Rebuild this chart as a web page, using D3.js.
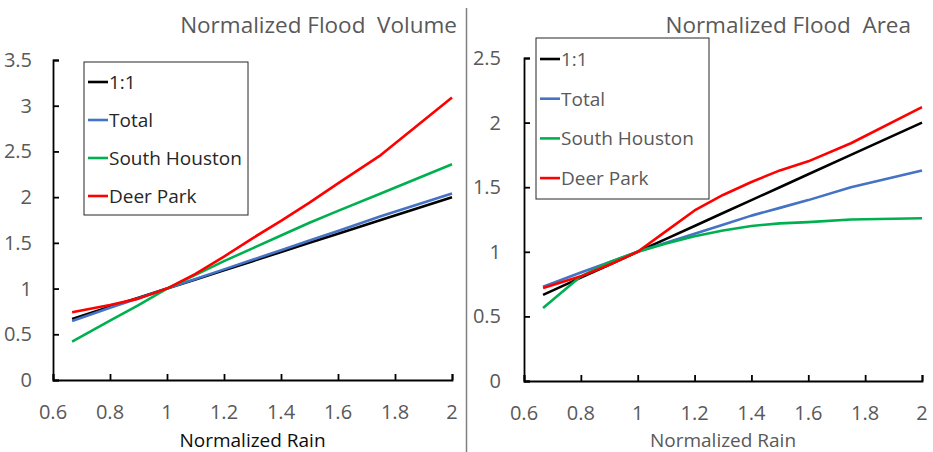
<!DOCTYPE html>
<html>
<head>
<meta charset="utf-8">
<script src="https://cdn.jsdelivr.net/npm/d3@7"></script>
<style>
  body { margin: 0; background: #fff; }
  svg text { font-family: "Open Sans", Lato, sans-serif; }
</style>
</head>
<body>
<div id="chart"></div>
<script>
// normalized rain (x) shared by every series
var rain = [0.667, 0.8, 0.9, 1.0, 1.1, 1.2, 1.3, 1.4, 1.5, 1.6, 1.75, 2.0];
var oneToOne = [0.667, 0.8, 0.9, 1.0, 1.1, 1.2, 1.3, 1.4, 1.5, 1.6, 1.75, 2.0];

// flood volume
var volTotal = [0.645, 0.79, 0.895, 1.0, 1.105, 1.21, 1.315, 1.42, 1.525, 1.63, 1.79, 2.04];
var volSouth = [0.42, 0.65, 0.82, 1.0, 1.15, 1.30, 1.44, 1.58, 1.72, 1.85, 2.04, 2.36];
var volDeer  = [0.74, 0.82, 0.89, 1.0, 1.16, 1.35, 1.55, 1.74, 1.94, 2.15, 2.46, 3.09];

// flood area
var areaTotal = [0.73, 0.84, 0.92, 1.0, 1.07, 1.14, 1.21, 1.28, 1.34, 1.40, 1.50, 1.63];
var areaSouth = [0.565, 0.81, 0.92, 1.0, 1.065, 1.12, 1.165, 1.20, 1.22, 1.23, 1.25, 1.26];
var areaDeer  = [0.72, 0.81, 0.90, 1.0, 1.16, 1.32, 1.44, 1.54, 1.63, 1.70, 1.84, 2.12];

var seriesNames = ['1:1', 'Total', 'South Houston', 'Deer Park'];
var seriesColors = ['#000000', '#4472C4', '#00B050', '#FF0000'];
var xTicks = [0.6, 0.8, 1, 1.2, 1.4, 1.6, 1.8, 2];
var volTicks = [0, 0.5, 1, 1.5, 2, 2.5, 3, 3.5];
var areaTicks = [0, 0.5, 1, 1.5, 2, 2.5];

var W = 933, H = 452;
var svg = d3.select('#chart').append('svg')
    .attr('width', W)
    .attr('height', H);

// divider between the two panels
svg.append('line')
    .attr('x1', 466.5).attr('x2', 466.5)
    .attr('y1', 8).attr('y2', H)
    .attr('stroke', '#7f7f7f')
    .attr('stroke-width', 1.5);

var panels = [
  {title: 'Normalized Flood\u00a0 Volume', titleX: 457,
   left: 53, right: 452, top: 60, bottom: 380, yMax: 3.5, yTicks: volTicks,
   series: [oneToOne, volTotal, volSouth, volDeer],
   labelX: 32, legend: {x: 84, y: 62, w: 164, h: 153, first: 82, step: 38},
   legendColor: '#262626', xLabelColor: '#0d0d0d'},
  {title: 'Normalized Flood\u00a0 Area', titleX: 911,
   left: 524, right: 922, top: 58, bottom: 381, yMax: 2.5, yTicks: areaTicks,
   series: [oneToOne, areaTotal, areaSouth, areaDeer],
   labelX: 501, legend: {x: 536, y: 38, w: 173, h: 161, first: 59, step: 39.7},
   legendColor: '#595959', xLabelColor: '#595959'}
];

panels.forEach(function(p) {
    var x = d3.scaleLinear().domain([0.6, 2]).range([p.left, p.right]);
    var y = d3.scaleLinear().domain([0, p.yMax]).range([p.bottom, p.top]);
    var g = svg.append('g');

    g.append('text')
	.attr('x', p.titleX).attr('y', 33)
	.attr('text-anchor', 'end')
	.attr('fill', '#595959')
	.style('font-size', '22.5px')
	.text(p.title);

    // axes with ticks pointing inward
    var xAxis = g.append('g')
	.attr('transform', 'translate(0,' + p.bottom + ')')
	.call(d3.axisTop(x).tickValues(xTicks).tickSize(6).tickFormat(''));
    var yAxis = g.append('g')
	.attr('transform', 'translate(' + p.left + ',0)')
	.call(d3.axisRight(y).tickValues(p.yTicks).tickSize(6).tickFormat(''));
    [xAxis, yAxis].forEach(function(a) {
	a.select('.domain').attr('stroke', '#000').attr('stroke-width', 1.8);
	a.selectAll('.tick line').attr('stroke', '#000').attr('stroke-width', 1.8);
    });

    g.selectAll('.xlab')
	.data(xTicks)
	.enter()
	.append('text')
	.attr('x', function(d) {return x(d);})
	.attr('y', p.bottom + 38.5)
	.attr('text-anchor', 'middle')
	.attr('fill', '#595959')
	.style('font-size', '20px')
	.text(function(d) {return d;});

    g.selectAll('.ylab')
	.data(p.yTicks)
	.enter()
	.append('text')
	.attr('x', p.labelX)
	.attr('y', function(d) {return y(d) + 7;})
	.attr('text-anchor', 'end')
	.attr('fill', '#595959')
	.style('font-size', '20px')
	.text(function(d) {return d;});

    g.append('text')
	.attr('x', (p.left + p.right) / 2)
	.attr('y', 447)
	.attr('text-anchor', 'middle')
	.attr('fill', p.xLabelColor)
	.style('font-size', '19px')
	.text('Normalized Rain');

    var line = d3.line()
	.x(function(d, i) {return x(rain[i]);})
	.y(function(d) {return y(d);});

    g.selectAll('.series')
	.data(p.series)
	.enter()
	.append('path')
	.attr('d', line)
	.attr('fill', 'none')
	.attr('stroke', function(d, i) {return seriesColors[i];})
	.attr('stroke-width', 2.6)
	.attr('stroke-linejoin', 'round');

    // legend
    var L = p.legend;
    g.append('rect')
	.attr('x', L.x).attr('y', L.y)
	.attr('width', L.w).attr('height', L.h)
	.attr('fill', '#fff')
	.attr('stroke', '#262626')
	.attr('stroke-width', 1);
    var items = g.selectAll('.leg')
	.data(seriesNames)
	.enter()
	.append('g')
	.attr('transform', function(d, i) {return 'translate(' + (L.x + 4) + ',' + (L.first + i * L.step) + ')';});
    items.append('line')
	.attr('x1', 0).attr('x2', 20)
	.attr('stroke', function(d, i) {return seriesColors[i];})
	.attr('stroke-width', 2.6);
    items.append('text')
	.attr('x', 21).attr('y', 7)
	.attr('fill', p.legendColor)
	.style('font-size', '19px')
	.text(function(d) {return d;});
});
</script>
</body>
</html>
